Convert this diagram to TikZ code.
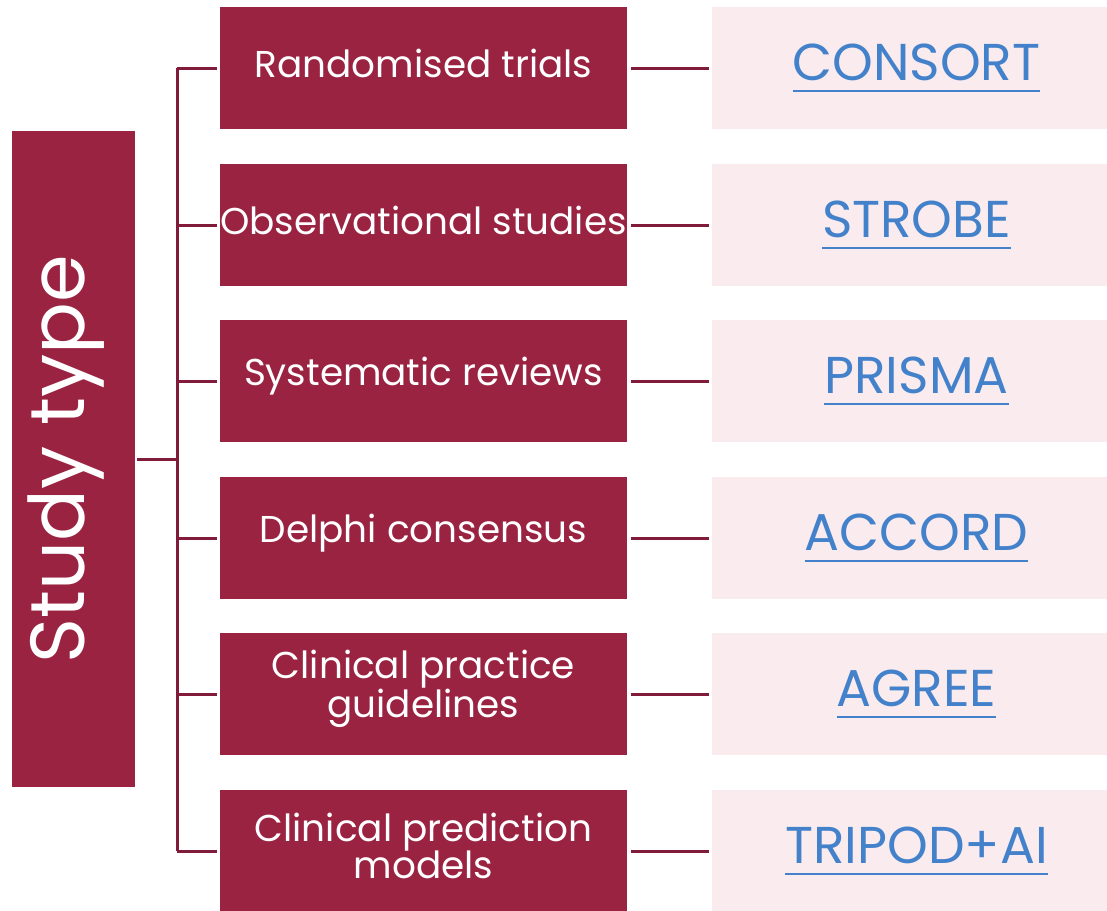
\documentclass[tikz,border=0pt]{standalone}
\usepackage{fontspec}
\setmainfont{Poppins}
\definecolor{wine}{HTML}{9A2342}
\definecolor{wineline}{HTML}{801B3A}
\definecolor{blush}{HTML}{FAEBEE}
\definecolor{linkblue}{HTML}{4382CB}
\newcommand\linktext[1]{\vtop{\hbox{#1}\kern9bp\hrule height 2.5bp}}
\tikzset{
 typebox/.style={fill=wine,minimum width=123bp,minimum height=656bp,inner sep=0pt},
 studybox/.style={fill=wine,minimum width=407bp,minimum height=122bp,inner sep=0pt},
 studytext/.style={text=white,inner sep=0pt,align=center,font=\fontsize{37.5}{38}\selectfont},
 guidebox/.style={fill=blush,minimum width=395bp,minimum height=122bp,inner sep=0pt},
 guidetext/.style={text=linkblue,inner sep=0pt,font=\fontsize{52}{56}\selectfont},
 link/.style={draw=wineline,line width=3bp},
}
\begin{document}
\begin{tikzpicture}[x=1bp,y=-1bp]
 \useasboundingbox (0,0) rectangle (1107,911);
 \node[typebox] (type) at (73.5,459) {};
 \node[rotate=90,text=white,font=\fontsize{77}{80}\selectfont] (typelabel) at ([xshift=-7bp]type.center) {Study type};
 \coordinate (trunk) at (177,459);
 \foreach \y/\design/\guide [count=\i] in {
   68/Randomised trials/CONSORT,
   225/Observational studies/STROBE,
   381/Systematic reviews/PRISMA,
   538/Delphi consensus/ACCORD,
   694/{Clinical practice\\guidelines}/AGREE,
   851/{Clinical prediction\\models}/TRIPOD+AI}
 {
   \node[studybox] (design\i) at (423.5,\y) {};
   \node[studytext] (designtext\i) at ([yshift=5bp]design\i.center) {\design};
   \node[guidebox] (guide\i) at (909.5,\y) {};
   \node[guidetext] (guidetext\i) at ([xshift=7bp]guide\i.center) {\linktext{\guide}};
   \coordinate (branch\i) at (177,\y);
   \draw[link,shorten >=3bp] (branch\i) -- (design\i.west);
   \draw[link,shorten <=4bp,shorten >=3bp] (design\i.east) -- (guide\i.west);
 }
 \draw[link] (branch1) -- (branch6);
 \draw[link,shorten <=2bp] (type.east) -- (trunk);
\end{tikzpicture}
\end{document}
